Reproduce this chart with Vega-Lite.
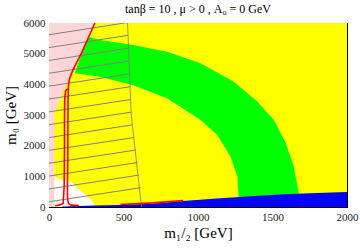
{
  "$schema": "https://vega.github.io/schema/vega-lite/v6.json",
  "width": 298,
  "height": 184,
  "autosize": "none",
  "padding": {"left": 49, "top": 23, "right": 13, "bottom": 41},
  "title": {"text": "tanβ = 10 ,  μ > 0 ,  A₀ = 0  GeV", "font": "Liberation Serif", "fontSize": 12, "fontWeight": "normal", "color": "black", "offset": 1},
  "config": {
    "view": {"stroke": "black", "strokeWidth": 1},
    "axis": {"labelFont": "Liberation Serif", "labelFontSize": 11, "labelColor": "#222", "titleFont": "Liberation Serif", "titleFontSize": 15, "titleFontWeight": "normal", "titleColor": "black", "domain": false, "grid": false, "tickColor": "black", "labelFlush": false, "format": "d"}
  },
  "datasets": {
    "bg": [{"x0": 0, "x1": 2000, "y0": 0, "y1": 6000}],
    "white": [
      {"i": 0, "x": 35, "y": 1000}, {"i": 1, "x": 60, "y": 930}, {"i": 2, "x": 106, "y": 871}, {"i": 3, "x": 150, "y": 818},
      {"i": 4, "x": 195, "y": 602}, {"i": 5, "x": 251, "y": 383}, {"i": 6, "x": 296, "y": 164}, {"i": 7, "x": 310, "y": 0}, {"i": 8, "x": 35, "y": 0}
    ],
    "pink": [
      {"i": 0, "x": 0, "y": 6000}, {"i": 1, "x": 308, "y": 6000}, {"i": 2, "x": 258, "y": 5454}, {"i": 3, "x": 218, "y": 5018},
      {"i": 4, "x": 161, "y": 4472}, {"i": 5, "x": 139, "y": 4200}, {"i": 6, "x": 110, "y": 3926}, {"i": 7, "x": 83, "y": 3599},
      {"i": 8, "x": 61, "y": 3327}, {"i": 9, "x": 38, "y": 3163}, {"i": 10, "x": 35, "y": 3000}, {"i": 11, "x": 35, "y": 0}, {"i": 12, "x": 0, "y": 0}
    ],
    "green": [
      {"i": 0, "x": 262, "y": 5540}, {"i": 1, "x": 343, "y": 5445}, {"i": 2, "x": 566, "y": 5283}, {"i": 3, "x": 792, "y": 5065},
      {"i": 4, "x": 1017, "y": 4685}, {"i": 5, "x": 1241, "y": 4086}, {"i": 6, "x": 1399, "y": 3435}, {"i": 7, "x": 1510, "y": 2837},
      {"i": 8, "x": 1589, "y": 2087}, {"i": 9, "x": 1643, "y": 1315}, {"i": 10, "x": 1677, "y": 430}, {"i": 11, "x": 1273, "y": 320},
      {"i": 12, "x": 1264, "y": 989}, {"i": 13, "x": 1219, "y": 1641}, {"i": 14, "x": 1129, "y": 2348}, {"i": 15, "x": 1017, "y": 2837},
      {"i": 16, "x": 792, "y": 3543}, {"i": 17, "x": 566, "y": 3970}, {"i": 18, "x": 343, "y": 4250}, {"i": 19, "x": 173, "y": 4364},
      {"i": 20, "x": 200, "y": 4750}, {"i": 21, "x": 235, "y": 5150}
    ],
    "blue": [
      {"x": 90, "y": 20}, {"x": 300, "y": 45}, {"x": 480, "y": 65}, {"x": 700, "y": 110}, {"x": 900, "y": 196},
      {"x": 1126, "y": 275}, {"x": 1350, "y": 350}, {"x": 1574, "y": 415}, {"x": 1798, "y": 458}, {"x": 2000, "y": 490}
    ],
    "hatch": [
      {"xl": 0, "a": 5617, "xr": 529, "b": 6017}, {"xl": 0, "a": 5198, "xr": 531, "b": 5598}, {"xl": 0, "a": 4779, "xr": 534, "b": 5179},
      {"xl": 0, "a": 4360, "xr": 537, "b": 4760}, {"xl": 0, "a": 3941, "xr": 541, "b": 4341}, {"xl": 0, "a": 3522, "xr": 545, "b": 3922},
      {"xl": 0, "a": 3103, "xr": 549, "b": 3503}, {"xl": 0, "a": 2684, "xr": 554, "b": 3094}, {"xl": 0, "a": 2265, "xr": 562, "b": 2680},
      {"xl": 0, "a": 1846, "xr": 572, "b": 2266}, {"xl": 0, "a": 1427, "xr": 582, "b": 1857}, {"xl": 0, "a": 1008, "xr": 592, "b": 1448},
      {"xl": 0, "a": 589, "xr": 603, "b": 1039}, {"xl": 0, "a": 170, "xr": 614, "b": 630}
    ],
    "edge": [
      {"x": 527, "y": 6000}, {"x": 540, "y": 4500}, {"x": 552, "y": 3000}, {"x": 575, "y": 2000}, {"x": 598, "y": 1000}, {"x": 621, "y": 0}
    ],
    "red": [
      {"b": "main", "i": 0, "x": 308, "y": 6000}, {"b": "main", "i": 1, "x": 258, "y": 5454}, {"b": "main", "i": 2, "x": 218, "y": 5018},
      {"b": "main", "i": 3, "x": 161, "y": 4472}, {"b": "main", "i": 4, "x": 139, "y": 4200}, {"b": "main", "i": 5, "x": 130, "y": 3950},
      {"b": "main", "i": 6, "x": 128, "y": 3500}, {"b": "main", "i": 7, "x": 127, "y": 2500}, {"b": "main", "i": 8, "x": 126, "y": 1500},
      {"b": "main", "i": 9, "x": 124, "y": 700}, {"b": "main", "i": 10, "x": 124, "y": 300}, {"b": "main", "i": 11, "x": 130, "y": 120},
      {"b": "main", "i": 12, "x": 150, "y": 60}, {"b": "main", "i": 13, "x": 200, "y": 50},
      {"b": "left", "i": 0, "x": 40, "y": 40}, {"b": "left", "i": 1, "x": 70, "y": 60}, {"b": "left", "i": 2, "x": 95, "y": 120},
      {"b": "left", "i": 3, "x": 102, "y": 700}, {"b": "left", "i": 4, "x": 104, "y": 2000}, {"b": "left", "i": 5, "x": 104, "y": 3000},
      {"b": "left", "i": 6, "x": 106, "y": 3550}, {"b": "left", "i": 7, "x": 112, "y": 3800}, {"b": "left", "i": 8, "x": 128, "y": 3850},
      {"b": "strip", "i": 0, "x": 480, "y": 80}, {"b": "strip", "i": 1, "x": 700, "y": 135}, {"b": "strip", "i": 2, "x": 900, "y": 210}
    ]
  },
  "resolve": {"axis": {"x": "independent", "y": "independent"}},
  "layer": [
    {
      "data": {"name": "bg"},
      "mark": {"type": "rect", "color": "#FFFF00"},
      "encoding": {
        "x": {"field": "x0", "type": "quantitative", "scale": {"domain": [0, 2000], "nice": false},
              "axis": {"orient": "bottom", "values": [0, 500, 1000, 1500, 2000], "tickSize": -5, "tickWidth": 1, "labelPadding": 9, "title": "m₁/₂ [GeV]", "titlePadding": 3}},
        "x2": {"field": "x1"},
        "y": {"field": "y0", "type": "quantitative", "scale": {"domain": [0, 6000], "nice": false},
              "axis": {"orient": "left", "values": [0, 1000, 2000, 3000, 4000, 5000, 6000], "tickSize": -5, "tickWidth": 1, "labelPadding": 9, "title": "m₀ [GeV]", "titlePadding": 5}},
        "y2": {"field": "y1"}
      }
    },
    {
      "data": {"name": "white"},
      "mark": {"type": "line", "fill": "white", "strokeWidth": 0, "interpolate": "linear-closed"},
      "encoding": {
        "x": {"field": "x", "type": "quantitative", "axis": null},
        "y": {"field": "y", "type": "quantitative", "axis": null},
        "order": {"field": "i", "type": "quantitative"}
      }
    },
    {
      "data": {"name": "pink"},
      "mark": {"type": "line", "fill": "#FFD6D6", "strokeWidth": 0, "interpolate": "linear-closed"},
      "encoding": {
        "x": {"field": "x", "type": "quantitative", "axis": null},
        "y": {"field": "y", "type": "quantitative", "axis": null},
        "order": {"field": "i", "type": "quantitative"}
      }
    },
    {
      "data": {"name": "green"},
      "mark": {"type": "line", "fill": "#00FF00", "strokeWidth": 0, "interpolate": "linear-closed"},
      "encoding": {
        "x": {"field": "x", "type": "quantitative", "axis": null},
        "y": {"field": "y", "type": "quantitative", "axis": null},
        "order": {"field": "i", "type": "quantitative"}
      }
    },
    {
      "data": {"name": "blue"},
      "mark": {"type": "area", "color": "#0000FF", "opacity": 1},
      "encoding": {
        "x": {"field": "x", "type": "quantitative", "axis": null},
        "y": {"field": "y", "type": "quantitative", "axis": null}
      }
    },
    {
      "data": {"name": "hatch"},
      "mark": {"type": "rule", "color": "#808080", "strokeWidth": 1, "clip": true},
      "encoding": {
        "x": {"field": "xl", "type": "quantitative", "axis": null},
        "y": {"field": "a", "type": "quantitative", "axis": null},
        "x2": {"field": "xr"},
        "y2": {"field": "b"}
      }
    },
    {
      "data": {"name": "edge"},
      "mark": {"type": "line", "color": "#808080", "strokeWidth": 1, "opacity": 0.85},
      "encoding": {
        "x": {"field": "x", "type": "quantitative", "axis": null},
        "y": {"field": "y", "type": "quantitative", "axis": null}
      }
    },
    {
      "data": {"name": "red"},
      "mark": {"type": "line", "color": "#FF0000", "strokeWidth": 1.6},
      "encoding": {
        "x": {"field": "x", "type": "quantitative", "axis": null},
        "y": {"field": "y", "type": "quantitative", "axis": null},
        "detail": {"field": "b", "type": "nominal"},
        "order": {"field": "i", "type": "quantitative"}
      }
    },
    {
      "data": {"name": "bg"},
      "mark": {"type": "rect", "opacity": 0},
      "encoding": {
        "x": {"field": "x0", "type": "quantitative", "axis": {"orient": "top", "values": [0, 500, 1000, 1500, 2000], "tickSize": -5, "labels": false, "title": null}},
        "x2": {"field": "x1"},
        "y": {"field": "y0", "type": "quantitative", "axis": {"orient": "right", "values": [0, 1000, 2000, 3000, 4000, 5000, 6000], "tickSize": -5, "labels": false, "title": null}},
        "y2": {"field": "y1"}
      }
    },
    {
      "data": {"name": "bg"},
      "mark": {"type": "rect", "opacity": 0},
      "encoding": {
        "x": {"field": "x0", "type": "quantitative", "axis": {"orient": "bottom", "values": [100, 200, 300, 400, 600, 700, 800, 900, 1100, 1200, 1300, 1400, 1600, 1700, 1800, 1900], "tickSize": -3, "labels": false, "title": null}},
        "x2": {"field": "x1"},
        "y": {"field": "y0", "type": "quantitative", "axis": {"orient": "left", "values": [200, 400, 600, 800, 1200, 1400, 1600, 1800, 2200, 2400, 2600, 2800, 3200, 3400, 3600, 3800, 4200, 4400, 4600, 4800, 5200, 5400, 5600, 5800], "tickSize": -3, "labels": false, "title": null}},
        "y2": {"field": "y1"}
      }
    },
    {
      "data": {"name": "bg"},
      "mark": {"type": "rect", "opacity": 0},
      "encoding": {
        "x": {"field": "x0", "type": "quantitative", "axis": {"orient": "top", "values": [100, 200, 300, 400, 600, 700, 800, 900, 1100, 1200, 1300, 1400, 1600, 1700, 1800, 1900], "tickSize": -3, "labels": false, "title": null}},
        "x2": {"field": "x1"},
        "y": {"field": "y0", "type": "quantitative", "axis": {"orient": "right", "values": [200, 400, 600, 800, 1200, 1400, 1600, 1800, 2200, 2400, 2600, 2800, 3200, 3400, 3600, 3800, 4200, 4400, 4600, 4800, 5200, 5400, 5600, 5800], "tickSize": -3, "labels": false, "title": null}},
        "y2": {"field": "y1"}
      }
    }
  ]
}
